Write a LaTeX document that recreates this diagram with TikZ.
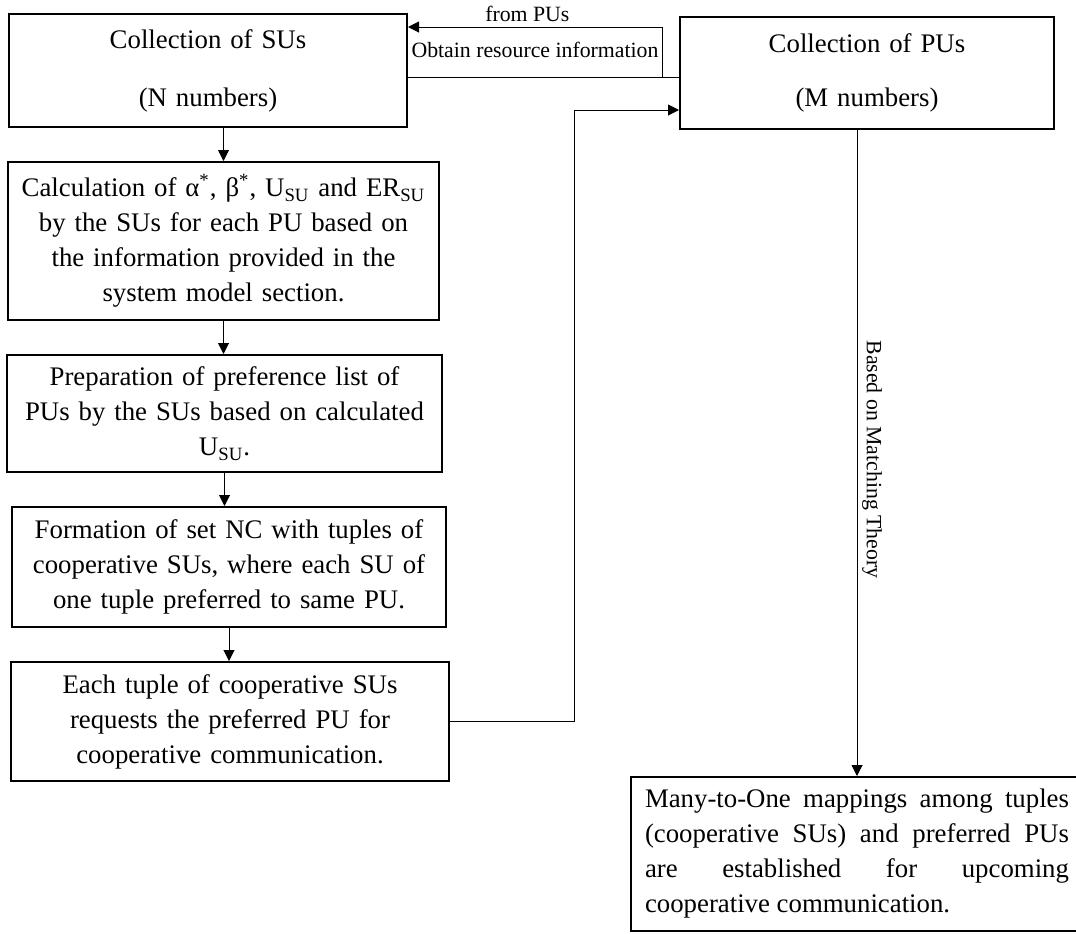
\documentclass[tikz,border=0pt]{standalone}
\usepackage{fontspec}
\setmainfont{Liberation Serif}
\usepackage{tikz}
\usetikzlibrary{arrows.meta,positioning}
\tikzset{
  procbox/.style={draw=black, line width=1pt, align=center, inner xsep=2pt, inner ysep=2pt, font=\fontsize{13.4pt}{17.5pt}\selectfont},
  linkline/.style={line width=0.5pt, draw=black},
  linkarrow/.style={-{Triangle[length=5.5pt,width=5.5pt]}, line width=0.5pt, draw=black},
  notetext/.style={font=\fontsize{10.9pt}{13pt}\selectfont, inner sep=0pt}
}

\begin{document}
\begin{tikzpicture}[x=0.5pt, y=-0.5pt, node distance=16.5pt]
  \useasboundingbox (0,0) rectangle (1076,933);

  \node[procbox, text width=195pt, minimum height=56.5pt] (su) at (208,70.5) {Collection of SUs\\[11.5pt](N numbers)};
  \node[procbox, text width=211.5pt, minimum height=79pt, below=of su, xshift=7.75pt] (calc) {Calculation of α\textsuperscript{*}, β\textsuperscript{*}, U\textsubscript{SU} and ER\textsubscript{SU}\\by the SUs for each PU based on\\the information provided in the\\system model section.};
  \node[procbox, text width=213.5pt, minimum height=58.5pt, below=of calc, xshift=0.5pt] (prep) {Preparation of preference list of\\PUs by the SUs based on calculated\\U\textsubscript{SU}.};
  \node[procbox, text width=213pt, minimum height=60pt, below=of prep, xshift=2.25pt] (form) {Formation of set NC with tuples of\\cooperative SUs, where each SU of\\one tuple preferred to same PU.};
  \node[procbox, text width=215pt, minimum height=59.5pt, below=of form, xshift=0.5pt] (each) {Each tuple of cooperative SUs\\requests the preferred PU for\\cooperative communication.};

  \node[procbox, text width=183pt, minimum height=56pt] (pu) at (867,73) {Collection of PUs\\[9.5pt](M numbers)};
  \node[procbox, text width=212pt, inner xsep=7pt, minimum height=77pt, align=justify] (many) at (857,854) {\hyphenpenalty=10000 Many-to-One mappings among tuples\linebreak (cooperative SUs) and preferred PUs\linebreak are established for upcoming\linebreak cooperative communication.};

  \coordinate (split) at (662,77);
  \coordinate (feed) at (662,27);
  \coordinate (climb) at (574,110);

  \draw[linkline] (su.east |- split) -- (pu.west |- split);
  \draw[linkarrow] (split) -- (feed) -- (su.east |- feed)
    node[notetext, above=2.5pt, pos=0.53] {from PUs}
    node[notetext, below=7.5pt, pos=0.5] {Obtain resource information};

  \draw[linkarrow] (calc.north |- su.south) -- (calc.north);
  \draw[linkarrow] (calc.south) -- (calc.south |- prep.north);
  \draw[linkarrow] (prep.south) -- (prep.south |- form.north);
  \draw[linkarrow] (form.south) -- (form.south |- each.north);

  \draw[linkarrow] (each.east) -| (climb) -- (pu.west |- climb);
  \draw[linkarrow] (many.north |- pu.south) -- (many.north)
    node[notetext, pos=0.51, rotate=-90, anchor=south, inner sep=2.3pt] {Based on Matching Theory};
\end{tikzpicture}
\end{document}
